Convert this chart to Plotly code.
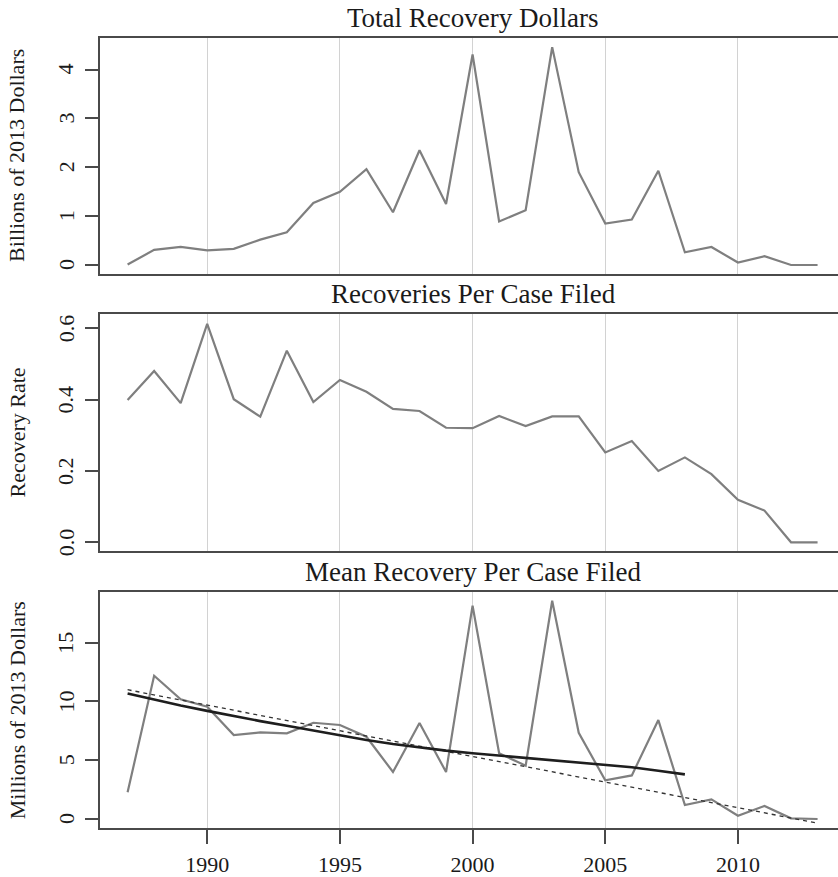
import plotly.graph_objects as go

years = list(range(1987, 2014))
total_recovery = [0.01, 0.31, 0.37, 0.30, 0.33, 0.52, 0.67, 1.27, 1.50, 1.96, 1.08, 2.35, 1.25,
                  4.31, 0.89, 1.12, 4.46, 1.90, 0.85, 0.93, 1.93, 0.26, 0.37, 0.05, 0.18, 0.0, 0.0]
recovery_rate = [0.399, 0.480, 0.390, 0.612, 0.401, 0.352, 0.537, 0.393, 0.455, 0.422, 0.374, 0.368,
                 0.321, 0.320, 0.354, 0.326, 0.353, 0.353, 0.252, 0.284, 0.200, 0.238, 0.191, 0.119,
                 0.089, 0.0, 0.0]
mean_recovery = [2.27, 12.19, 10.18, 9.55, 7.14, 7.37, 7.29, 8.19, 8.0, 7.0, 4.0, 8.17, 4.0, 18.15,
                 5.59, 4.54, 18.57, 7.34, 3.29, 3.71, 8.42, 1.19, 1.67, 0.28, 1.11, 0.06, 0.0]
fit_years = list(range(1987, 2009))
fit_curve = [10.68, 10.15, 9.65, 9.2, 8.75, 8.33, 7.93, 7.52, 7.08, 6.72, 6.38, 6.08, 5.82, 5.6,
             5.4, 5.2, 5.02, 4.84, 4.64, 4.4, 4.1, 3.8]
linear_years = [1987, 2013]
linear_fit = [11.0, -0.35]

titles = ["Total Recovery Dollars", "Recoveries Per Case Filed", "Mean Recovery Per Case Filed"]
ytitles = ["Billions of 2013 Dollars", "Recovery Rate", "Millions of 2013 Dollars"]
ytickvals = [[0, 1, 2, 3, 4], [0.0, 0.2, 0.4, 0.6], [0, 5, 10, 15]]
yticktext = [["0", "1", "2", "3", "4"], ["0.0", "0.2", "0.4", "0.6"], ["0", "5", "10", "15"]]
xtickvals = [1990, 1995, 2000, 2005, 2010]

W, H = 838, 877
L = 100
box_px = [(38, 274), (314.3, 550.7), (592.3, 828.3)]
yranges = [[-0.184, 4.647], [-0.0235, 0.639], [-0.791, 19.29]]
xrange_ = [1985.96, 2013.77]

FONT = "Liberation Serif"
DATA_COL = "#7f7f7f"
BOX_COL = "#4a4a4a"
TXT = "#1a1a1a"

fig = go.Figure()
series = [total_recovery, recovery_rate, mean_recovery]
for i, s in enumerate(series):
    fig.add_trace(go.Scatter(x=years, y=s, mode="lines", line=dict(color=DATA_COL, width=2.2),
                             xaxis=f"x{i+1}" if i else "x", yaxis=f"y{i+1}" if i else "y",
                             showlegend=False, hoverinfo="skip"))

fig.add_trace(go.Scatter(x=linear_years, y=linear_fit, mode="lines",
                         line=dict(color="#333333", width=1.3, dash="4px,4px"),
                         xaxis="x3", yaxis="y3", showlegend=False, hoverinfo="skip"))
fig.add_trace(go.Scatter(x=fit_years, y=fit_curve, mode="lines", line=dict(color="#1e1e1e", width=2.6),
                         xaxis="x3", yaxis="y3", showlegend=False, hoverinfo="skip"))

layout = dict(width=W, height=H, margin=dict(l=L, r=0, t=0, b=0), paper_bgcolor="white",
              plot_bgcolor="white", showlegend=False)
annotations = []
for i in range(3):
    top, bot = box_px[i]
    dom = [1 - bot / H, 1 - top / H]
    xa = "xaxis" if i == 0 else f"xaxis{i+1}"
    ya = "yaxis" if i == 0 else f"yaxis{i+1}"
    yid = "y" if i == 0 else f"y{i+1}"
    xid = "x" if i == 0 else f"x{i+1}"
    last = (i == 2)
    layout[xa] = dict(domain=[0, 1], range=xrange_, anchor=yid, tickvals=xtickvals,
                      showgrid=True, gridcolor="#d2d2d2", gridwidth=1, zeroline=False,
                      showline=True, linecolor=BOX_COL, linewidth=2, mirror=True,
                      showticklabels=last, ticks="outside" if last else "", ticklen=14,
                      tickwidth=1.5, tickcolor=BOX_COL, ticklabelstandoff=1,
                      tickfont=dict(family=FONT, size=22, color=TXT), automargin=False)
    layout[ya] = dict(domain=dom, range=yranges[i], anchor=xid, tickvals=ytickvals[i],
                      showticklabels=False, showgrid=False, zeroline=False, showline=True,
                      linecolor=BOX_COL, linewidth=2, ticks="outside", ticklen=13, tickwidth=1.5,
                      tickcolor=BOX_COL, automargin=False)
    # rotated y tick labels (R style, parallel to the axis)
    for v, t in zip(ytickvals[i], yticktext[i]):
        annotations.append(dict(text=t, xref="paper", yref=yid, x=(66 - L) / (W - L), y=v,
                                xanchor="center", yanchor="middle", textangle=-90,
                                showarrow=False, font=dict(family=FONT, size=22, color=TXT)))
    annotations.append(dict(text=titles[i], xref="paper", yref="paper", x=(473.3 - L) / (W - L),
                            y=dom[1], xanchor="center", yanchor="bottom", yshift=3,
                            showarrow=False, font=dict(family=FONT, size=27, color=TXT)))
    annotations.append(dict(text=ytitles[i], xref="paper", yref="paper", x=(17 - L) / (W - L),
                            y=(dom[0] + dom[1]) / 2, xanchor="center", yanchor="middle",
                            textangle=-90, showarrow=False,
                            font=dict(family=FONT, size=22, color=TXT)))
layout["annotations"] = annotations
fig.update_layout(**layout)
fig.write_html("out.html")
